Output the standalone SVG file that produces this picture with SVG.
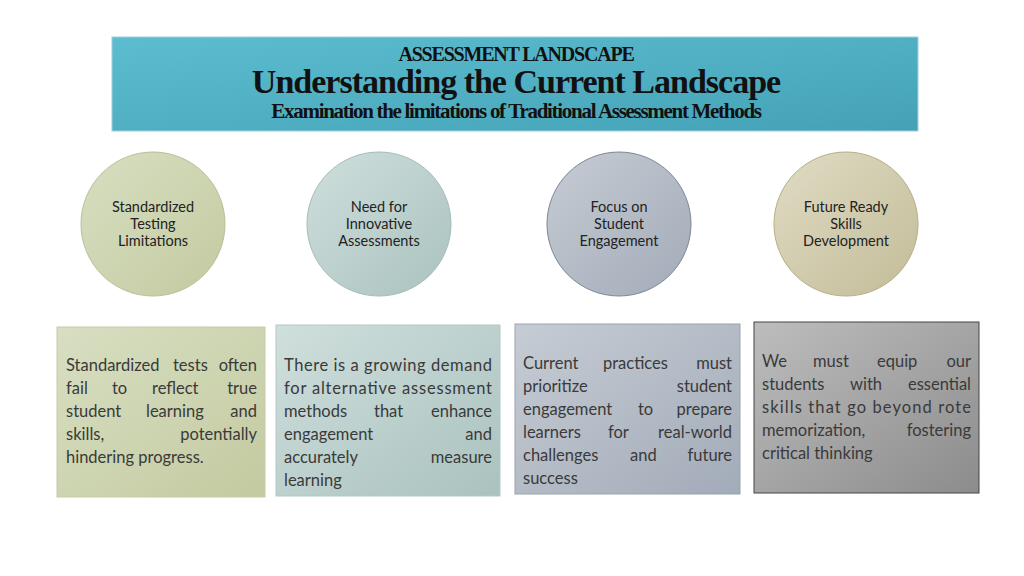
<svg xmlns="http://www.w3.org/2000/svg" width="1024" height="576" viewBox="0 0 1024 576">
<style>
.t{font-family:Lato,"Open Sans",sans-serif;font-size:16.5px;fill:#3a3a3a}
.e{text-anchor:end}
.c{font-family:Lato,"Open Sans",sans-serif;font-size:14.5px;fill:#222;text-anchor:middle}
.h{font-family:"Liberation Serif",serif;fill:#111;text-anchor:middle;font-weight:bold}
</style>
<defs>
<linearGradient id="hg" x1="0" y1="0" x2="1" y2="1"><stop offset="0" stop-color="#5cbdd0"/><stop offset="1" stop-color="#45a2b6"/></linearGradient>
<linearGradient id="g1" x1="0" y1="0" x2="1" y2="1"><stop offset="0" stop-color="#d8dfc2"/><stop offset="1" stop-color="#c3caa0"/></linearGradient>
<linearGradient id="g2" x1="0" y1="0" x2="1" y2="1"><stop offset="0" stop-color="#cfdfdc"/><stop offset="1" stop-color="#aac2bf"/></linearGradient>
<linearGradient id="g3" x1="0" y1="0" x2="1" y2="1"><stop offset="0" stop-color="#c6ccd4"/><stop offset="1" stop-color="#a2abb8"/></linearGradient>
<linearGradient id="g4" x1="0" y1="0" x2="1" y2="1"><stop offset="0" stop-color="#e0dcc4"/><stop offset="1" stop-color="#c2bc98"/></linearGradient>
<linearGradient id="g5" x1="0" y1="0" x2="1" y2="1"><stop offset="0" stop-color="#bdbdbd"/><stop offset="1" stop-color="#8c8c8c"/></linearGradient>
</defs>
<g id="header">
<rect x="112" y="37" width="806" height="94" fill="url(#hg)" stroke="#9fd0da"/>
<text class="h" x="516" y="61" font-size="20" letter-spacing="-1.2">ASSESSMENT LANDSCAPE</text>
<text class="h" x="516" y="93" font-size="34" letter-spacing="-1">Understanding the Current Landscape</text>
<text class="h" x="516" y="118" font-size="21" letter-spacing="-1.3">Examination the limitations of Traditional Assessment Methods</text>
</g>
<g id="c1"><circle cx="153" cy="224" r="72" fill="url(#g1)" stroke="#b8c09a"/>
<text class="c" x="153" y="212">Standardized</text><text class="c" x="153" y="229">Testing</text><text class="c" x="153" y="246">Limitations</text></g>
<g id="c2"><circle cx="379" cy="224" r="72" fill="url(#g2)" stroke="#a4bcb9"/>
<text class="c" x="379" y="212">Need for</text><text class="c" x="379" y="229">Innovative</text><text class="c" x="379" y="246">Assessments</text></g>
<g id="c3"><circle cx="619" cy="224" r="72" fill="url(#g3)" stroke="#7d8796"/>
<text class="c" x="619" y="212">Focus on</text><text class="c" x="619" y="229">Student</text><text class="c" x="619" y="246">Engagement</text></g>
<g id="c4"><circle cx="846" cy="224" r="72" fill="url(#g4)" stroke="#b5ae85"/>
<text class="c" x="846" y="212">Future Ready</text><text class="c" x="846" y="229">Skills</text><text class="c" x="846" y="246">Development</text></g>
<g id="b1"><rect x="57" y="327" width="208" height="170" fill="url(#g1)" stroke="#c5cca9"/>
<text class="t" x="66" y="371">Standardized</text><text class="t" x="173" y="371">tests</text><text class="t e" x="257" y="371">often</text>
<text class="t" x="66" y="394">fail</text><text class="t" x="112" y="394">to</text><text class="t" x="152" y="394">reflect</text><text class="t e" x="257" y="394">true</text>
<text class="t" x="66" y="417">student</text><text class="t" x="146" y="417">learning</text><text class="t e" x="257" y="417">and</text>
<text class="t" x="66" y="440">skills,</text><text class="t e" x="257" y="440">potentially</text>
<text class="t" x="66" y="463">hindering progress.</text></g>
<g id="b2"><rect x="276" y="325" width="224" height="171" fill="url(#g2)" stroke="#b3c8c5"/>
<text class="t" x="284" y="371" textLength="208">There is a growing demand</text>
<text class="t" x="284" y="394" textLength="208">for alternative assessment</text>
<text class="t" x="284" y="417">methods</text><text class="t" x="374" y="417">that</text><text class="t e" x="492" y="417">enhance</text>
<text class="t" x="284" y="440">engagement</text><text class="t e" x="492" y="440">and</text>
<text class="t" x="284" y="463">accurately</text><text class="t e" x="492" y="463">measure</text>
<text class="t" x="284" y="486">learning</text></g>
<g id="b3"><rect x="515" y="324" width="225" height="170" fill="url(#g3)" stroke="#9aa3ae"/>
<text class="t" x="523" y="369">Current</text><text class="t" x="603" y="369">practices</text><text class="t e" x="732" y="369">must</text>
<text class="t" x="523" y="392">prioritize</text><text class="t e" x="732" y="392">student</text>
<text class="t" x="523" y="415">engagement</text><text class="t" x="638" y="415">to</text><text class="t e" x="732" y="415">prepare</text>
<text class="t" x="523" y="438">learners</text><text class="t" x="608" y="438">for</text><text class="t e" x="732" y="438">real-world</text>
<text class="t" x="523" y="461">challenges</text><text class="t" x="630" y="461">and</text><text class="t e" x="732" y="461">future</text>
<text class="t" x="523" y="484">success</text></g>
<g id="b4"><rect x="754" y="322" width="225" height="171" fill="url(#g5)" stroke="#444"/>
<text class="t" x="762" y="367">We</text><text class="t" x="813" y="367">must</text><text class="t" x="877" y="367">equip</text><text class="t e" x="971" y="367">our</text>
<text class="t" x="762" y="390">students</text><text class="t" x="850" y="390">with</text><text class="t e" x="971" y="390">essential</text>
<text class="t" x="762" y="413" textLength="209">skills that go beyond rote</text>
<text class="t" x="762" y="436">memorization,</text><text class="t e" x="971" y="436">fostering</text>
<text class="t" x="762" y="459">critical thinking</text></g>
<g id="connectors"/>
</svg>
